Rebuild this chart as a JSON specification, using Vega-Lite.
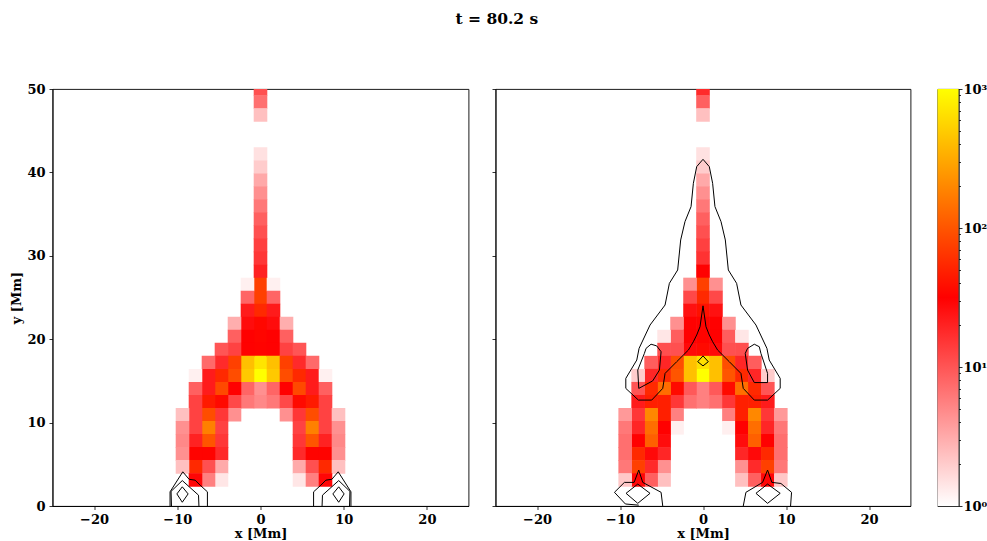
{
"$schema":"https://vega.github.io/schema/vega-lite/v6.json",
"autosize":{"type":"none"},
"padding":{"left":52.5,"top":89,"right":934.5,"bottom":452},
"background":"white",
"title":{"text":"t = 80.2 s","anchor":"middle","frame":"bounds","font":"DejaVu Serif","fontWeight":"bold","fontSize":15.5,"color":"black","offset":55,"dx":-2},
"config":{"view":{"stroke":"black","strokeWidth":0.9},
"axis":{"labelFont":"DejaVu Serif","labelFontWeight":"bold","labelFontSize":13,"labelColor":"black","titleFont":"DejaVu Serif","titleFontWeight":"bold","titleFontSize":13,"titleColor":"black","domainColor":"black","tickColor":"black","domainWidth":0.9,"tickWidth":0.8,"tickSize":3.5,"grid":false,"labelPadding":4}},
"datasets":{
"left_cells":[
{"x":0,"y":50,"v":10.7},{"x":0,"y":48.4375,"v":6.9},{"x":0,"y":46.875,"v":2.35},{"x":0,"y":42.1875,"v":1.5},{"x":0,"y":40.625,"v":2},{"x":0,"y":39.0625,"v":3.2},{"x":0,"y":37.5,"v":4.5},{"x":0,"y":35.9375,"v":6.2},{"x":0,"y":34.375,"v":8.6},{"x":0,"y":32.8125,"v":10.7},{"x":0,"y":31.25,"v":13.3},{"x":0,"y":29.6875,"v":15},{"x":0,"y":28.125,"v":20},{"x":0,"y":26.5625,"v":75},{"x":0,"y":25,"v":75},{"x":0,"y":23.4375,"v":55},{"x":0,"y":21.875,"v":35},{"x":0,"y":20.3125,"v":34},{"x":0,"y":18.75,"v":33},{"x":0,"y":17.1875,"v":700},{"x":0,"y":15.625,"v":1000},{"x":0,"y":14.0625,"v":4.5},{"x":0,"y":12.5,"v":5},
{"x":-1.5625,"y":26.5625,"v":1.23},{"x":1.5625,"y":26.5625,"v":1.23},
{"x":-1.5625,"y":25,"v":8},{"x":1.5625,"y":25,"v":8},
{"x":-1.5625,"y":23.4375,"v":22},{"x":1.5625,"y":23.4375,"v":22},
{"x":-1.5625,"y":21.875,"v":27},{"x":1.5625,"y":21.875,"v":27},{"x":-3.125,"y":21.875,"v":3},{"x":3.125,"y":21.875,"v":3},
{"x":-1.5625,"y":20.3125,"v":31},{"x":1.5625,"y":20.3125,"v":31},{"x":-3.125,"y":20.3125,"v":8.6},{"x":3.125,"y":20.3125,"v":8.6},
{"x":-1.5625,"y":18.75,"v":31},{"x":1.5625,"y":18.75,"v":31},{"x":-3.125,"y":18.75,"v":13},{"x":3.125,"y":18.75,"v":13},{"x":-4.6875,"y":18.75,"v":10},{"x":4.6875,"y":18.75,"v":10},
{"x":-1.5625,"y":17.1875,"v":425},{"x":1.5625,"y":17.1875,"v":425},{"x":-3.125,"y":17.1875,"v":75},{"x":3.125,"y":17.1875,"v":75},{"x":-4.6875,"y":17.1875,"v":18},{"x":4.6875,"y":17.1875,"v":18},{"x":-6.25,"y":17.1875,"v":7.5},{"x":6.25,"y":17.1875,"v":7.5},
{"x":-1.5625,"y":15.625,"v":480},{"x":1.5625,"y":15.625,"v":480},{"x":-3.125,"y":15.625,"v":90},{"x":3.125,"y":15.625,"v":90},{"x":-4.6875,"y":15.625,"v":55},{"x":4.6875,"y":15.625,"v":55},{"x":-6.25,"y":15.625,"v":22},{"x":6.25,"y":15.625,"v":22},{"x":-7.8125,"y":15.625,"v":1.23},{"x":7.8125,"y":15.625,"v":1.23},
{"x":-1.5625,"y":14.0625,"v":8},{"x":1.5625,"y":14.0625,"v":8},{"x":-3.125,"y":14.0625,"v":31},{"x":3.125,"y":14.0625,"v":31},{"x":-4.6875,"y":14.0625,"v":85},{"x":4.6875,"y":14.0625,"v":85},{"x":-6.25,"y":14.0625,"v":22},{"x":6.25,"y":14.0625,"v":22},{"x":-7.8125,"y":14.0625,"v":8.6},{"x":7.8125,"y":14.0625,"v":8.6},
{"x":-1.5625,"y":12.5,"v":6.2},{"x":1.5625,"y":12.5,"v":6.2},{"x":-3.125,"y":12.5,"v":12},{"x":3.125,"y":12.5,"v":12},{"x":-4.6875,"y":12.5,"v":36},{"x":4.6875,"y":12.5,"v":36},{"x":-6.25,"y":12.5,"v":45},{"x":6.25,"y":12.5,"v":45},{"x":-7.8125,"y":12.5,"v":13},{"x":7.8125,"y":12.5,"v":13},
{"x":-3.125,"y":10.9375,"v":4.5},{"x":3.125,"y":10.9375,"v":4.5},{"x":-4.6875,"y":10.9375,"v":15},{"x":4.6875,"y":10.9375,"v":15},{"x":-6.25,"y":10.9375,"v":90},{"x":6.25,"y":10.9375,"v":90},{"x":-7.8125,"y":10.9375,"v":13},{"x":7.8125,"y":10.9375,"v":13},{"x":-9.375,"y":10.9375,"v":2.35},{"x":9.375,"y":10.9375,"v":2.35},
{"x":-4.6875,"y":9.375,"v":13},{"x":4.6875,"y":9.375,"v":13},{"x":-6.25,"y":9.375,"v":178},{"x":6.25,"y":9.375,"v":178},{"x":-7.8125,"y":9.375,"v":13},{"x":7.8125,"y":9.375,"v":13},{"x":-9.375,"y":9.375,"v":4.5},{"x":9.375,"y":9.375,"v":4.5},
{"x":-4.6875,"y":7.8125,"v":15},{"x":4.6875,"y":7.8125,"v":15},{"x":-6.25,"y":7.8125,"v":100},{"x":6.25,"y":7.8125,"v":100},{"x":-7.8125,"y":7.8125,"v":20},{"x":7.8125,"y":7.8125,"v":20},{"x":-9.375,"y":7.8125,"v":5},{"x":9.375,"y":7.8125,"v":5},
{"x":-4.6875,"y":6.25,"v":18},{"x":4.6875,"y":6.25,"v":18},{"x":-6.25,"y":6.25,"v":33},{"x":6.25,"y":6.25,"v":33},{"x":-7.8125,"y":6.25,"v":33},{"x":7.8125,"y":6.25,"v":33},{"x":-9.375,"y":6.25,"v":4.5},{"x":9.375,"y":6.25,"v":4.5},
{"x":-4.6875,"y":4.6875,"v":3.16},{"x":4.6875,"y":4.6875,"v":3.16},{"x":-6.25,"y":4.6875,"v":10.7},{"x":6.25,"y":4.6875,"v":10.7},{"x":-7.8125,"y":4.6875,"v":55},{"x":7.8125,"y":4.6875,"v":55},{"x":-9.375,"y":4.6875,"v":2.35},{"x":9.375,"y":4.6875,"v":2.35},
{"x":-4.6875,"y":3.125,"v":1.4},{"x":4.6875,"y":3.125,"v":1.4},{"x":-6.25,"y":3.125,"v":5.6},{"x":6.25,"y":3.125,"v":5.6},{"x":-7.8125,"y":3.125,"v":29},{"x":7.8125,"y":3.125,"v":29}
],
"right_cells":[
{"x":0,"y":50,"v":18},{"x":0,"y":48.4375,"v":8.6},{"x":0,"y":46.875,"v":2.35},{"x":0,"y":42.1875,"v":1.5},{"x":0,"y":40.625,"v":2},{"x":0,"y":39.0625,"v":3.2},{"x":0,"y":37.5,"v":4.5},{"x":0,"y":35.9375,"v":6.2},{"x":0,"y":34.375,"v":8.6},{"x":0,"y":32.8125,"v":10.7},{"x":0,"y":31.25,"v":13.3},{"x":0,"y":29.6875,"v":16},{"x":0,"y":28.125,"v":31},{"x":0,"y":26.5625,"v":75},{"x":0,"y":25,"v":55},{"x":0,"y":23.4375,"v":40},{"x":0,"y":21.875,"v":33},{"x":0,"y":20.3125,"v":33},{"x":0,"y":18.75,"v":36},{"x":0,"y":17.1875,"v":650},{"x":0,"y":15.625,"v":1000},{"x":0,"y":14.0625,"v":5.6},{"x":0,"y":12.5,"v":5.6},
{"x":-1.5625,"y":26.5625,"v":4.5},{"x":1.5625,"y":26.5625,"v":4.5},
{"x":-1.5625,"y":25,"v":12},{"x":1.5625,"y":25,"v":12},
{"x":-1.5625,"y":23.4375,"v":25},{"x":1.5625,"y":23.4375,"v":25},
{"x":-1.5625,"y":21.875,"v":31},{"x":1.5625,"y":21.875,"v":31},{"x":-3.125,"y":21.875,"v":4.5},{"x":3.125,"y":21.875,"v":4.5},
{"x":-1.5625,"y":20.3125,"v":31},{"x":1.5625,"y":20.3125,"v":31},{"x":-3.125,"y":20.3125,"v":9},{"x":3.125,"y":20.3125,"v":9},{"x":-4.6875,"y":20.3125,"v":1.4},{"x":4.6875,"y":20.3125,"v":1.4},
{"x":-1.5625,"y":18.75,"v":28},{"x":1.5625,"y":18.75,"v":28},{"x":-3.125,"y":18.75,"v":10.7},{"x":3.125,"y":18.75,"v":10.7},{"x":-4.6875,"y":18.75,"v":11},{"x":4.6875,"y":18.75,"v":11},
{"x":-1.5625,"y":17.1875,"v":425},{"x":1.5625,"y":17.1875,"v":425},{"x":-3.125,"y":17.1875,"v":90},{"x":3.125,"y":17.1875,"v":90},{"x":-4.6875,"y":17.1875,"v":19},{"x":4.6875,"y":17.1875,"v":19},{"x":-6.25,"y":17.1875,"v":9},{"x":6.25,"y":17.1875,"v":9},
{"x":-1.5625,"y":15.625,"v":425},{"x":1.5625,"y":15.625,"v":425},{"x":-3.125,"y":15.625,"v":100},{"x":3.125,"y":15.625,"v":100},{"x":-4.6875,"y":15.625,"v":55},{"x":4.6875,"y":15.625,"v":55},{"x":-6.25,"y":15.625,"v":19},{"x":6.25,"y":15.625,"v":19},{"x":-7.8125,"y":15.625,"v":2},{"x":7.8125,"y":15.625,"v":2},
{"x":-1.5625,"y":14.0625,"v":9.5},{"x":1.5625,"y":14.0625,"v":9.5},{"x":-3.125,"y":14.0625,"v":36},{"x":3.125,"y":14.0625,"v":36},{"x":-4.6875,"y":14.0625,"v":140},{"x":4.6875,"y":14.0625,"v":140},{"x":-6.25,"y":14.0625,"v":55},{"x":6.25,"y":14.0625,"v":55},{"x":-7.8125,"y":14.0625,"v":10},{"x":7.8125,"y":14.0625,"v":10},
{"x":-1.5625,"y":12.5,"v":6.9},{"x":1.5625,"y":12.5,"v":6.9},{"x":-3.125,"y":12.5,"v":15},{"x":3.125,"y":12.5,"v":15},{"x":-4.6875,"y":12.5,"v":48},{"x":4.6875,"y":12.5,"v":48},{"x":-6.25,"y":12.5,"v":48},{"x":6.25,"y":12.5,"v":48},{"x":-7.8125,"y":12.5,"v":22},{"x":7.8125,"y":12.5,"v":22},
{"x":-3.125,"y":10.9375,"v":5.6},{"x":3.125,"y":10.9375,"v":5.6},{"x":-4.6875,"y":10.9375,"v":48},{"x":4.6875,"y":10.9375,"v":48},{"x":-6.25,"y":10.9375,"v":200},{"x":6.25,"y":10.9375,"v":200},{"x":-7.8125,"y":10.9375,"v":15},{"x":7.8125,"y":10.9375,"v":15},{"x":-9.375,"y":10.9375,"v":4},{"x":9.375,"y":10.9375,"v":4},
{"x":-3.125,"y":9.375,"v":1.25},{"x":3.125,"y":9.375,"v":1.25},{"x":-4.6875,"y":9.375,"v":31},{"x":4.6875,"y":9.375,"v":31},{"x":-6.25,"y":9.375,"v":140},{"x":6.25,"y":9.375,"v":140},{"x":-7.8125,"y":9.375,"v":19},{"x":7.8125,"y":9.375,"v":19},{"x":-9.375,"y":9.375,"v":6.2},{"x":9.375,"y":9.375,"v":6.2},
{"x":-4.6875,"y":7.8125,"v":27},{"x":4.6875,"y":7.8125,"v":27},{"x":-6.25,"y":7.8125,"v":116},{"x":6.25,"y":7.8125,"v":116},{"x":-7.8125,"y":7.8125,"v":31},{"x":7.8125,"y":7.8125,"v":31},{"x":-9.375,"y":7.8125,"v":7},{"x":9.375,"y":7.8125,"v":7},
{"x":-4.6875,"y":6.25,"v":19},{"x":4.6875,"y":6.25,"v":19},{"x":-6.25,"y":6.25,"v":28},{"x":6.25,"y":6.25,"v":28},{"x":-7.8125,"y":6.25,"v":55},{"x":7.8125,"y":6.25,"v":55},{"x":-9.375,"y":6.25,"v":7},{"x":9.375,"y":6.25,"v":7},
{"x":-4.6875,"y":4.6875,"v":4.5},{"x":4.6875,"y":4.6875,"v":4.5},{"x":-6.25,"y":4.6875,"v":18},{"x":6.25,"y":4.6875,"v":18},{"x":-7.8125,"y":4.6875,"v":75},{"x":7.8125,"y":4.6875,"v":75},{"x":-9.375,"y":4.6875,"v":6.2},{"x":9.375,"y":4.6875,"v":6.2},
{"x":-4.6875,"y":3.125,"v":2.35},{"x":4.6875,"y":3.125,"v":2.35},{"x":-6.25,"y":3.125,"v":8.6},{"x":6.25,"y":3.125,"v":8.6},{"x":-7.8125,"y":3.125,"v":29},{"x":7.8125,"y":3.125,"v":29},{"x":-9.375,"y":3.125,"v":2.1},{"x":9.375,"y":3.125,"v":2.1}
],
"left_contours":[
{"c":"a","n":0,"x":-10.87,"y":0},{"c":"a","n":1,"x":-10.87,"y":1.7},{"c":"a","n":2,"x":-9.34,"y":4.1},{"c":"a","n":3,"x":-8.58,"y":3.2},{"c":"a","n":4,"x":-7.86,"y":3.1},{"c":"a","n":5,"x":-7.26,"y":2.5},{"c":"a","n":6,"x":-6.38,"y":1.7},{"c":"a","n":7,"x":-6.38,"y":0},
{"c":"b","n":0,"x":-10.7,"y":0},{"c":"b","n":1,"x":-10.75,"y":1.75},{"c":"b","n":2,"x":-9.4,"y":3.05},{"c":"b","n":3,"x":-7.45,"y":1.3},{"c":"b","n":4,"x":-7.4,"y":0},
{"c":"d","n":0,"x":-9.4,"y":2.3},{"c":"d","n":1,"x":-8.7,"y":1.45},{"c":"d","n":2,"x":-9.4,"y":0.45},{"c":"d","n":3,"x":-10.05,"y":1.45},{"c":"d","n":4,"x":-9.4,"y":2.3},
{"c":"e","n":0,"x":10.87,"y":0},{"c":"e","n":1,"x":10.87,"y":1.7},{"c":"e","n":2,"x":9.34,"y":4.1},{"c":"e","n":3,"x":8.58,"y":3.2},{"c":"e","n":4,"x":7.86,"y":3.1},{"c":"e","n":5,"x":7.26,"y":2.5},{"c":"e","n":6,"x":6.38,"y":1.7},{"c":"e","n":7,"x":6.38,"y":0},
{"c":"f","n":0,"x":10.7,"y":0},{"c":"f","n":1,"x":10.75,"y":1.75},{"c":"f","n":2,"x":9.4,"y":3.05},{"c":"f","n":3,"x":7.45,"y":1.3},{"c":"f","n":4,"x":7.4,"y":0},
{"c":"g","n":0,"x":9.4,"y":2.3},{"c":"g","n":1,"x":8.7,"y":1.45},{"c":"g","n":2,"x":9.4,"y":0.45},{"c":"g","n":3,"x":10.05,"y":1.45},{"c":"g","n":4,"x":9.4,"y":2.3}
],
"right_contours":[
{"c":"o","n":0,"x":0,"y":41.57},{"c":"o","n":1,"x":0.76,"y":40.69},{"c":"o","n":2,"x":1.16,"y":38.69},{"c":"o","n":3,"x":1.44,"y":35.9},{"c":"o","n":4,"x":2.17,"y":34.1},{"c":"o","n":5,"x":2.69,"y":31.9},{"c":"o","n":6,"x":3.05,"y":28.3},{"c":"o","n":7,"x":4.05,"y":26.7},{"c":"o","n":8,"x":4.57,"y":24.1},{"c":"o","n":9,"x":6.38,"y":21.7},{"c":"o","n":10,"x":7.7,"y":18.9},{"c":"o","n":11,"x":7.98,"y":17.5},{"c":"o","n":12,"x":9.3,"y":15.3},{"c":"o","n":13,"x":9.3,"y":14.1},{"c":"o","n":14,"x":7.78,"y":12.7},{"c":"o","n":15,"x":6.18,"y":12.7},{"c":"o","n":16,"x":4.85,"y":14.1},{"c":"o","n":17,"x":4.57,"y":15.9},{"c":"o","n":18,"x":3.17,"y":17.3},{"c":"o","n":19,"x":1.76,"y":18.7},{"c":"o","n":20,"x":1.16,"y":19.7},{"c":"o","n":21,"x":0.76,"y":20.5},{"c":"o","n":22,"x":0.36,"y":21.5},{"c":"o","n":23,"x":0,"y":24},{"c":"o","n":24,"x":-0.36,"y":21.5},{"c":"o","n":25,"x":-0.76,"y":20.5},{"c":"o","n":26,"x":-1.16,"y":19.7},{"c":"o","n":27,"x":-1.76,"y":18.7},{"c":"o","n":28,"x":-3.17,"y":17.3},{"c":"o","n":29,"x":-4.57,"y":15.9},{"c":"o","n":30,"x":-4.85,"y":14.1},{"c":"o","n":31,"x":-6.18,"y":12.7},{"c":"o","n":32,"x":-7.78,"y":12.7},{"c":"o","n":33,"x":-9.3,"y":14.1},{"c":"o","n":34,"x":-9.3,"y":15.3},{"c":"o","n":35,"x":-7.98,"y":17.5},{"c":"o","n":36,"x":-7.7,"y":18.9},{"c":"o","n":37,"x":-6.38,"y":21.7},{"c":"o","n":38,"x":-4.57,"y":24.1},{"c":"o","n":39,"x":-4.05,"y":26.7},{"c":"o","n":40,"x":-3.05,"y":28.3},{"c":"o","n":41,"x":-2.69,"y":31.9},{"c":"o","n":42,"x":-2.17,"y":34.1},{"c":"o","n":43,"x":-1.44,"y":35.9},{"c":"o","n":44,"x":-1.16,"y":38.69},{"c":"o","n":45,"x":-0.76,"y":40.69},{"c":"o","n":46,"x":0,"y":41.57},
{"c":"t","n":0,"x":6.18,"y":19.4},{"c":"t","n":1,"x":6.78,"y":19.1},{"c":"t","n":2,"x":6.98,"y":18.3},{"c":"t","n":3,"x":7.78,"y":15.9},{"c":"t","n":4,"x":7.78,"y":14.8},{"c":"t","n":5,"x":6.18,"y":14.8},{"c":"t","n":6,"x":5.37,"y":16.3},{"c":"t","n":7,"x":5.09,"y":18.3},{"c":"t","n":8,"x":5.37,"y":18.9},{"c":"t","n":9,"x":6.18,"y":19.4},
{"c":"u","n":0,"x":-6.26,"y":19.4},{"c":"u","n":1,"x":-5.58,"y":19.2},{"c":"u","n":2,"x":-5.05,"y":18.5},{"c":"u","n":3,"x":-5.25,"y":16.3},{"c":"u","n":4,"x":-6.06,"y":15},{"c":"u","n":5,"x":-7.74,"y":14.1},{"c":"u","n":6,"x":-7.86,"y":16.3},{"c":"u","n":7,"x":-7.06,"y":18.3},{"c":"u","n":8,"x":-6.86,"y":18.9},{"c":"u","n":9,"x":-6.26,"y":19.4},
{"c":"m","n":0,"x":0,"y":18},{"c":"m","n":1,"x":0.64,"y":17.3},{"c":"m","n":2,"x":0,"y":16.8},{"c":"m","n":3,"x":-0.64,"y":17.3},{"c":"m","n":4,"x":0,"y":18},
{"c":"l","n":0,"x":-4.85,"y":0},{"c":"l","n":1,"x":-5.05,"y":1.64},{"c":"l","n":2,"x":-7.26,"y":2.83},{"c":"l","n":3,"x":-7.74,"y":4.31},{"c":"l","n":4,"x":-8.3,"y":2.83},{"c":"l","n":5,"x":-9.47,"y":2.83},{"c":"l","n":6,"x":-10.67,"y":1.64},{"c":"l","n":7,"x":-9.35,"y":0.24},{"c":"l","n":8,"x":-7.74,"y":0.1},
{"c":"p","n":0,"x":-7.86,"y":2.63},{"c":"p","n":1,"x":-6.38,"y":1.52},{"c":"p","n":2,"x":-7.86,"y":0.32},{"c":"p","n":3,"x":-9.27,"y":1.52},{"c":"p","n":4,"x":-7.86,"y":2.63},
{"c":"r","n":0,"x":4.85,"y":0},{"c":"r","n":1,"x":5.17,"y":1.64},{"c":"r","n":2,"x":7.18,"y":2.83},{"c":"r","n":3,"x":7.78,"y":4.31},{"c":"r","n":4,"x":8.3,"y":2.83},{"c":"r","n":5,"x":9.39,"y":2.7},{"c":"r","n":6,"x":10.67,"y":1.64},{"c":"r","n":7,"x":10.55,"y":0},
{"c":"s","n":0,"x":7.78,"y":2.63},{"c":"s","n":1,"x":9.3,"y":1.52},{"c":"s","n":2,"x":7.78,"y":0.32},{"c":"s","n":3,"x":6.38,"y":1.52},{"c":"s","n":4,"x":7.78,"y":2.63}
],
"colorbar":[{"lo":1,"hi":1000}]
},
"hconcat":[
{"width":416,"height":417,"layer":[
{"data":{"name":"left_cells"},"mark":{"type":"rect","width":13.6,"height":13.6,"clip":true},"encoding":{
"x":{"field":"x","type":"quantitative","scale":{"domain":[-25,25],"nice":false,"zero":false},"axis":{"values":[-20,-10,0,10,20],"title":"x [Mm]","titlePadding":1}},
"y":{"field":"y","type":"quantitative","scale":{"domain":[0,50],"nice":false,"zero":false},"axis":{"values":[0,10,20,30,40,50],"title":"y [Mm]","titlePadding":3}},
"color":{"field":"v","type":"quantitative","scale":{"type":"log","domain":[1,31.62,1000],"range":["#ffffff","#ff0000","#ffff00"],"interpolate":"rgb"},"legend":null}}},
{"data":{"name":"left_contours"},"mark":{"type":"line","color":"black","strokeWidth":1,"clip":true,"interpolate":"linear"},"encoding":{
"x":{"field":"x","type":"quantitative"},"y":{"field":"y","type":"quantitative"},"detail":{"field":"c"},"order":{"field":"n","type":"quantitative"}}}
]},
{"width":415,"height":417,"layer":[
{"data":{"name":"right_cells"},"mark":{"type":"rect","width":13.6,"height":13.6,"clip":true},"encoding":{
"x":{"field":"x","type":"quantitative","scale":{"domain":[-25,25],"nice":false,"zero":false},"axis":{"values":[-20,-10,0,10,20],"title":"x [Mm]","titlePadding":1}},
"y":{"field":"y","type":"quantitative","scale":{"domain":[0,50],"nice":false,"zero":false},"axis":{"values":[0,10,20,30,40,50],"title":null,"labels":false}},
"color":{"field":"v","type":"quantitative","scale":{"type":"log","domain":[1,31.62,1000],"range":["#ffffff","#ff0000","#ffff00"],"interpolate":"rgb"},"legend":null}}},
{"data":{"name":"right_contours"},"mark":{"type":"line","color":"black","strokeWidth":1,"clip":true,"interpolate":"linear"},"encoding":{
"x":{"field":"x","type":"quantitative"},"y":{"field":"y","type":"quantitative"},"detail":{"field":"c"},"order":{"field":"n","type":"quantitative"}}}
]},
{"width":21,"height":417,"data":{"name":"colorbar"},
"mark":{"type":"rect","color":{"gradient":"linear","x1":0,"y1":1,"x2":0,"y2":0,"stops":[{"offset":0,"color":"#ffffff"},{"offset":0.5,"color":"#ff0000"},{"offset":1,"color":"#ffff00"}]}},
"encoding":{
"y":{"field":"lo","type":"quantitative","scale":{"type":"log","domain":[1,1000],"nice":false},"axis":{"orient":"right","title":null,"values":[1,2,3,4,5,6,7,8,9,10,20,30,40,50,60,70,80,90,100,200,300,400,500,600,700,800,900,1000],"labelExpr":"datum.value==1?'10⁰':datum.value==10?'10¹':datum.value==100?'10²':datum.value==1000?'10³':''","tickSize":{"condition":{"test":"datum.value==1||datum.value==10||datum.value==100||datum.value==1000","value":3.5},"value":2},"labelPadding":1,"labelOverlap":false,"labelBound":false}},
"y2":{"field":"hi"}}}
],"spacing":27,"bounds":"flush"
}
